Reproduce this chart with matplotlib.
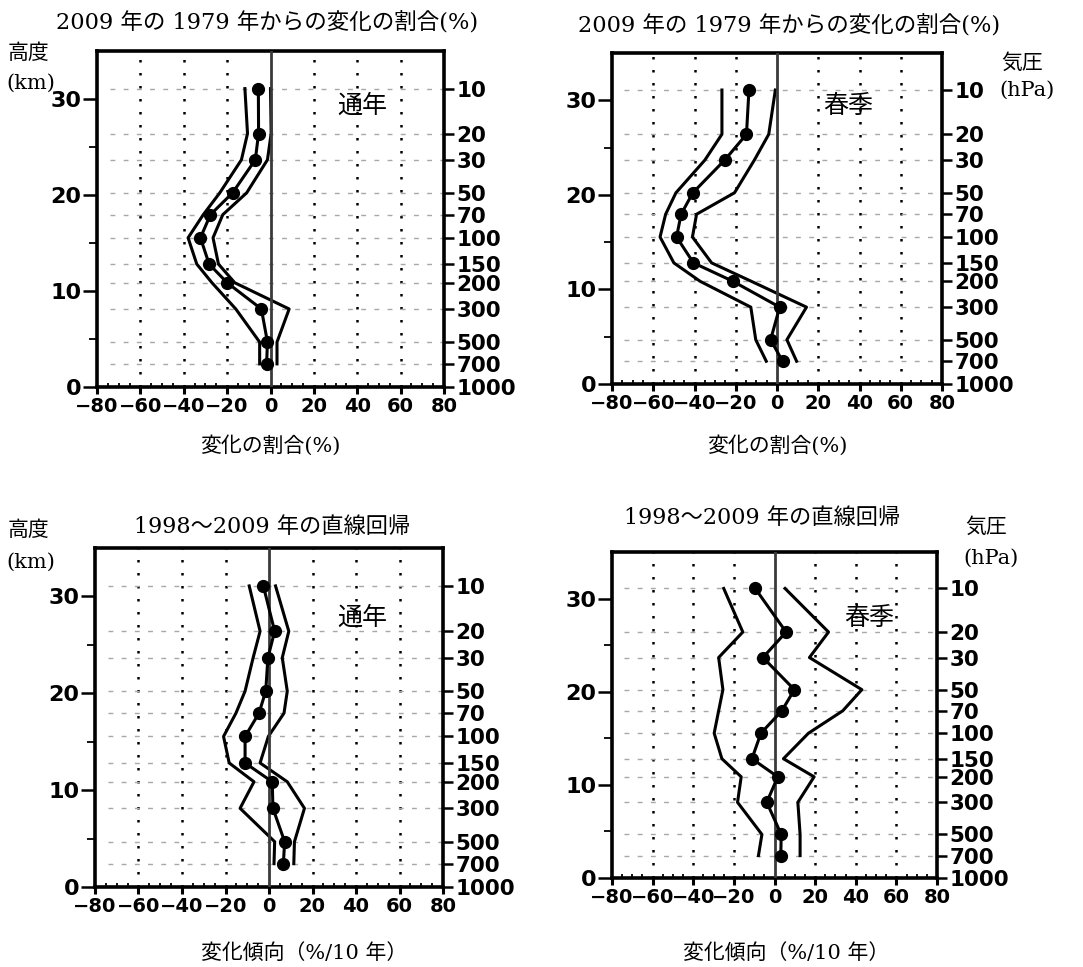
import numpy as np
import matplotlib
matplotlib.use("Agg")
import matplotlib.pyplot as plt

# 気圧面 (hPa) and the height scale used in the figure
levels = [10, 20, 30, 50, 70, 100, 150, 200, 300, 500, 700]
axis_levels = [10, 20, 30, 50, 70, 100, 150, 200, 300, 500, 700, 1000]
scale_height = 6.75  # km

# 2009年の1979年からの変化の割合(%) : 通年
ann_ratio = [-5.6, -5.5, -7.0, -17.5, -27.7, -32.3, -28.3, -20.0, -4.2, -1.4, -1.8]
ann_ratio_lo = [-11.8, -10.6, -13.4, -23.4, -31.0, -38.0, -34.0, -27.0, -16.0, -5.0, -5.0]
ann_ratio_hi = [0.0, 0.3, -1.4, -11.0, -22.0, -26.5, -24.0, -16.5, 8.6, 3.0, 3.0]

# 2009年の1979年からの変化の割合(%) : 春季
spr_ratio = [-13.6, -14.8, -25.4, -40.8, -46.5, -48.7, -40.5, -21.4, 1.3, -3.1, 2.7]
spr_ratio_lo = [-26.7, -26.7, -35.0, -49.0, -54.0, -56.7, -50.0, -37.3, -12.7, -10.3, -5.2]
spr_ratio_hi = [-0.8, -4.0, -11.0, -20.6, -39.0, -41.0, -31.7, -12.5, 14.3, 4.8, 9.5]

# 1998～2009年の直線回帰 (%/10年) : 通年
ann_trend = [-2.6, 2.6, -0.5, -1.5, -4.6, -11.0, -11.0, 1.5, 1.8, 7.2, 6.6]
ann_trend_lo = [-9.1, -4.1, -7.3, -11.0, -15.2, -20.9, -18.3, -6.9, -13.3, 2.6, 2.3]
ann_trend_hi = [3.0, 9.1, 6.1, 8.4, 6.9, -0.3, -4.1, 8.4, 16.3, 11.7, 11.4]

# 1998～2009年の直線回帰 (%/10年) : 春季
spr_trend = [-9.5, 5.7, -5.7, 9.8, 3.6, -6.7, -11.1, 1.6, -3.8, 3.3, 3.1]
spr_trend_lo = [-25.0, -15.6, -27.5, -25.4, -27.5, -29.7, -25.9, -16.4, -18.2, -6.2, -7.9]
spr_trend_hi = [5.2, 26.6, 17.2, 43.0, 33.6, 16.7, 4.4, 19.5, 11.5, 12.6, 12.6]

W, H = 1083, 967
JP = ['DejaVu Serif', 'Noto Sans CJK JP']
TICKFONT = 'DejaVu Sans'

fig = plt.figure(figsize=(W / 100, H / 100), dpi=100)


def px_rect(l, t, r, b):
    return [l / W, 1 - b / H, (r - l) / W, (b - t) / H]


def ftext(x, y, s, size=15, ha='left'):
    fig.text(x / W, 1 - y / H, s, ha=ha, va='center', fontsize=size, family=JP)


def height_of(p):
    return scale_height * np.log(1000.0 / np.asarray(p, dtype=float))


def style_labels(labels, size):
    for lab in labels:
        lab.set_fontfamily(TICKFONT)
        lab.set_fontweight('bold')
        lab.set_fontsize(size)


def profile_panel(rect, mid, lo, hi, season, season_xy):
    ax = fig.add_axes(rect)
    z = height_of(levels)

    # grid
    for gx in [-60, -40, -20, 20, 40, 60]:
        ax.axvline(gx, color='black', lw=1.8, ls=(0, (1, 4.2)), zorder=1)
    ax.hlines(z, -74, 80, colors='#a8a8a8', lw=1.0, linestyles=(0, (3.5, 6)), zorder=1)

    # profiles
    ax.plot(lo, z, color='black', lw=2.2, zorder=3)
    ax.plot(hi, z, color='black', lw=2.2, zorder=3)
    ax.axvline(0, color='#3a3a3a', lw=2.0, zorder=3.5)
    ax.plot(mid, z, color='black', lw=2.2, marker='o', ms=8.5, zorder=4)

    ax.set_xlim(-80, 80)
    ax.set_ylim(0, 35)
    ax.set_xticks(np.arange(-80, 81, 20))
    ax.set_xticks(np.arange(-80, 81, 5), minor=True)
    ax.set_yticks([0, 10, 20, 30])
    ax.set_yticks([5, 15, 25], minor=True)
    ax.tick_params(axis='x', which='major', direction='out', length=5, width=2.2, pad=2)
    ax.tick_params(axis='x', which='minor', direction='in', length=3, width=1.3)
    ax.tick_params(axis='y', which='major', direction='out', length=10, width=1.8, pad=1)
    ax.tick_params(axis='y', which='minor', direction='out', length=6, width=1.3)
    style_labels(ax.get_xticklabels(), 14)
    style_labels(ax.get_yticklabels(), 16)
    for sp in ax.spines.values():
        sp.set_linewidth(2.6)

    # pressure axis on the right
    ax2 = ax.twinx()
    ax2.set_ylim(0, 35)
    ax2.set_yticks(height_of(axis_levels))
    ax2.set_yticklabels([str(p) for p in axis_levels])
    ax2.tick_params(axis='y', direction='out', length=7, width=1.8, pad=2)
    style_labels(ax2.get_yticklabels(), 15.5)
    for sp in ax2.spines.values():
        sp.set_visible(False)

    ax.text(season_xy[0], season_xy[1], season, ha='center', va='center',
            fontsize=18, family=JP, zorder=5)
    return ax


profile_panel(px_rect(97, 51, 444, 387), ann_ratio, ann_ratio_lo, ann_ratio_hi, '通年', (42.5, 29.3))
profile_panel(px_rect(612, 53, 942, 384), spr_ratio, spr_ratio_lo, spr_ratio_hi, '春季', (34.5, 29.3))
profile_panel(px_rect(95, 548, 443, 887), ann_trend, ann_trend_lo, ann_trend_hi, '通年', (43, 27.8))
profile_panel(px_rect(612, 552, 937, 878), spr_trend, spr_trend_lo, spr_trend_hi, '春季', (46.5, 27.9))

# titles and axis captions
ftext(267, 22, '2009 年の 1979 年からの変化の割合(%)', size=16.2, ha='center')
ftext(789, 25, '2009 年の 1979 年からの変化の割合(%)', size=16.2, ha='center')
ftext(272, 527, '1998〜2009 年の直線回帰', size=16, ha='center')
ftext(762, 518, '1998〜2009 年の直線回帰', size=16, ha='center')

ftext(270, 445, '変化の割合(%)', ha='center')
ftext(777, 445, '変化の割合(%)', ha='center')
ftext(304, 953, '変化傾向（%/10 年）', ha='center')
ftext(786, 953, '変化傾向（%/10 年）', ha='center')

ftext(8, 53, '高度')
ftext(6, 83, '(km)')
ftext(8, 530, '高度')
ftext(6, 562, '(km)')
ftext(1001, 63, '気圧')
ftext(999, 90, '(hPa)')
ftext(965, 527, '気圧')
ftext(963, 558, '(hPa)')

fig.savefig('out.png', dpi=100)
